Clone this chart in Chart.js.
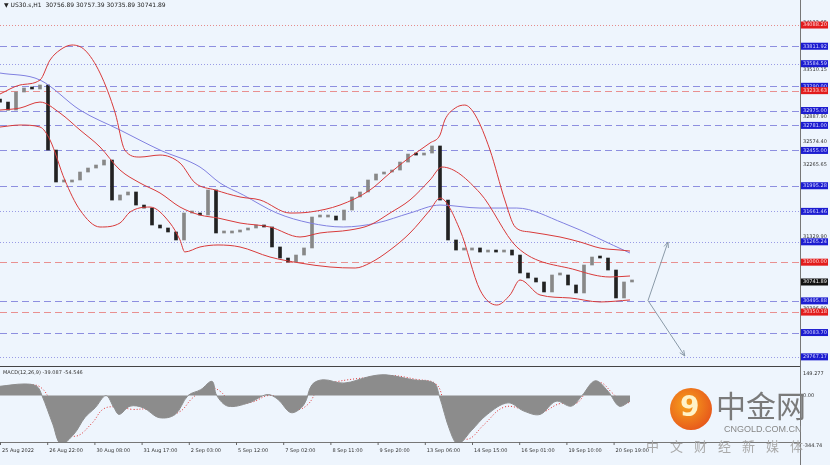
<!DOCTYPE html>
<html>
<head>
<meta charset="utf-8">
<script src="https://cdn.jsdelivr.net/npm/chart.js@4"></script>
<style>
  body { margin: 0; background: #eef5fd; font-family: 'DejaVu Sans', sans-serif; }
  #wrap { position: relative; width: 830px; height: 465px; overflow: hidden; }
  #price { position: absolute; left: 0; top: 0; }
  #macd { position: absolute; left: 0; top: 367px; }
  .title { position: absolute; left: 4px; top: 1px; font-size: 6px; color: #222; }
  .logo-c { position: absolute; left: 670px; top: 388px; width: 42px; height: 42px; border-radius: 50%;
            background: radial-gradient(circle at 40% 40%, #f7a31c, #e2401b); }
  .logo-c span { position: absolute; left: 10px; top: 2px; font-size: 28px; color: #fff3c8; font-weight: bold; }
  .logo-t { position: absolute; left: 716px; top: 384px; font-size: 30px; color: #7a7a7a; font-family: 'Noto Sans CJK SC'; line-height: 40px; }
  .logo-e { position: absolute; left: 724px; top: 424px; font-size: 9px; color: #888; font-family: 'Liberation Sans'; }
  .logo-s { position: absolute; left: 646px; top: 436px; font-size: 13px; color: #aaa; letter-spacing: 11px; font-family: 'Noto Sans CJK SC'; }
</style>
</head>
<body>
<div id="wrap">
  <canvas id="price" width="830" height="367"></canvas>
  <canvas id="macd" width="830" height="98"></canvas>
  <div class="title">▼ US30.s,H1 &nbsp;30756.89 30757.39 30735.89 30741.89</div>
  <div class="logo-c"><span>9</span></div>
  <div class="logo-t">中金网</div>
  <div class="logo-e">CNGOLD.COM.CN</div>
  <div class="logo-s">中文财经新媒体</div>
</div>
<script>
// closes, one candle per slot
const closes = [33085, 32981, 33216, 33268, 33255, 33307, 32460, 32044, 32044, 32070,
  32174, 32226, 32265, 32330, 31809, 31875, 31914, 31744, 31705, 31484,
  31445, 31393, 31289, 31640, 31640, 31614, 31940, 31380, 31380, 31393,
  31419, 31445, 31484, 31458, 31198, 31054, 31002, 31093, 31185, 31588,
  31588, 31601, 31549, 31679, 31849, 31914, 32070, 32148, 32174, 32200,
  32304, 32408, 32395, 32421, 32513, 31809, 31289, 31158, 31158, 31185,
  31132, 31158, 31132, 31158, 31093, 30859, 30794, 30742, 30612, 30833,
  30833, 30703, 30599, 30963, 31067, 31054, 30898, 30534, 30742, 30742];

const upperBand = [[0,33190],[2.5,33307],[5,33372],[6.25,33632],[7.5,33763],[9,33828],[10.6,33763],
  [12.5,33463],[14.4,32942],[15.6,32460],[17.5,32369],[20,32395],[22.5,32291],[24.4,32031],
  [26.9,31940],[30,31849],[32.5,31810],[36.25,31640],[38.75,31653],[42.5,31744],[46.25,31940],
  [48.75,32161],[51.25,32369],[53.75,32552],[55,32656],[55.6,32851],[56.9,33007],[58.1,33046],
  [59.4,32916],[61.25,32460],[63.1,31810],[64.4,31458],[66.25,31393],[70,31328],[72.5,31263],
  [75,31184],[77.5,31158],[78.75,31145]];
const middleBand = [[0,32981],[2.5,33007],[5,33085],[7.5,32942],[10,32721],[12.5,32500],[15,32200],
  [17.5,32031],[20,31901],[22.5,31718],[25,31614],[27.25,31575],[30,31510],[33.75,31458],
  [37.5,31328],[40,31380],[43.75,31419],[46.25,31484],[48.75,31640],[51.25,31810],[53.75,32070],
  [55.25,32239],[60,31901],[64.6,31198],[72,30898],[76.25,30807],[78.75,30820]];
const lowerBand = [[0,32760],[2.5,32786],[5,32760],[6.25,32591],[8.1,32070],[10,31679],[12.5,31458],
  [15,31510],[16.25,31653],[18.75,31718],[21.25,31510],[22.5,31289],[23.1,31133],[25,31198],
  [27.25,31224],[30,31198],[33.75,31067],[37.5,30989],[41.25,30937],[44.4,30924],[46.25,30989],
  [48.75,31158],[51.25,31380],[53.75,31679],[55,31835],[57.5,31419],[60,30638],[62.1,30442],
  [63.75,30573],[65,30768],[67.5,30573],[71.25,30534],[75,30482],[78.75,30508]];
const slowMA = [[0,33463],[5,33372],[10,32981],[15,32721],[20,32460],[25,32239],[27.5,32031],
  [30.4,31875],[34.6,31640],[38.75,31510],[42.9,31458],[47.1,31510],[51.25,31640],[55,31744],
  [60,31705],[64.6,31705],[70.4,31510],[78.75,31119]];

const macdHist = [[0,64],[3,80],[4.6,64],[5.25,0],[6.6,-197],[7.6,-334],[9.25,-265],[10.6,-152],
  [11.9,-84],[13.25,0],[14.25,-84],[14.9,-130],[16.25,-73],[17.9,-84],[19.9,-152],[21.9,-130],
  [23.5,0],[25.1,41],[26.5,98],[27.1,0],[28.5,-73],[31.1,-50],[33.4,7],[34.75,-27],[36.4,-118],
  [38,-61],[39,75],[40.4,109],[43,86],[46.25,132],[48.25,143],[51.6,109],[54.25,86],[54.9,0],
  [56.25,-243],[57.25,-334],[58.9,-243],[60.9,-130],[63.5,-50],[65.5,-107],[67.5,-130],
  [69.5,-39],[71.4,-73],[72.75,0],[74.4,102],[76,30],[77.4,-73],[78.75,-39]];
const macdSignal = [[0,50],[3,70],[5,60],[6.5,-60],[8,-230],[9.5,-280],[11.5,-190],[13,-90],
  [15,-80],[16.5,-95],[18.5,-95],[20.5,-135],[22.5,-110],[24,-20],[26,60],[27.5,30],[29,-50],
  [31.5,-45],[33.5,0],[35,-20],[37,-95],[38.5,-60],[40,60],[42,95],[46,125],[49,138],[52,112],
  [54.5,80],[55.5,-50],[57,-250],[58.5,-300],[60.5,-200],[63,-80],[65.5,-95],[67.5,-120],
  [70,-55],[72,-55],[73.5,40],[75,90],[76.5,20],[78,-55],[78.75,-45]];

const dateLabels = ['25 Aug 2022', '26 Aug 22:00', '30 Aug 08:00', '31 Aug 17:00', '2 Sep 03:00',
  '5 Sep 12:00', '7 Sep 02:00', '8 Sep 11:00', '9 Sep 20:00', '13 Sep 06:00', '14 Sep 15:00',
  '16 Sep 01:00', '19 Sep 10:00', '20 Sep 19:00'];

const blueDashed = [33811.92, 33290.00, 32975.00, 32781.00, 32455.00, 31995.28, 30495.88, 30083.70];
const blueDotted = [33584.59, 31661.46, 31265.24, 29767.17];
const redDashed = [33233.63, 31000.00, 30350.18];
const redDotted = [34088.20];
const plainTicks = [34122.65, 33510.15, 32887.90, 32574.40, 32265.65, 31329.90, 30396.90];
const lastPrice = 30741.89;

const toPts = (arr) => arr.map(([x, y]) => ({ x, y }));
const bodies = closes.map((c, i) => ({ x: i, y: [i === 0 ? c + 40 : closes[i - 1], c] }));

const fmt = (v) => v.toFixed(2);

const levelsPlugin = {
  id: 'levels',
  beforeDatasetsDraw(chart) {
    const { ctx, chartArea: a, scales: { y } } = chart;
    ctx.save();
    ctx.lineWidth = 1;
    const draw = (vals, color, dash) => {
      vals.forEach((v) => {
        const py = Math.round(y.getPixelForValue(v)) + 0.5;
        ctx.strokeStyle = color;
        ctx.setLineDash(dash);
        ctx.beginPath(); ctx.moveTo(a.left, py); ctx.lineTo(a.right, py); ctx.stroke();
      });
    };
    draw(blueDashed, '#8d8fe0', [7, 4]);
    draw(blueDotted, '#9a9ce6', [1, 2]);
    draw(redDashed, '#e99090', [7, 4]);
    draw(redDotted, '#e58c8c', [1, 2]);
    ctx.restore();
  },
  afterDraw(chart) {
    const { ctx, chartArea: a, scales: { x, y } } = chart;
    ctx.save();
    ctx.setLineDash([]);
    ctx.strokeStyle = '#777';
    ctx.beginPath(); ctx.moveTo(a.right + 0.5, 0); ctx.lineTo(a.right + 0.5, chart.height); ctx.stroke();
    ctx.strokeStyle = '#444';
    ctx.beginPath(); ctx.moveTo(0, chart.height - 0.5); ctx.lineTo(a.right, chart.height - 0.5); ctx.stroke();
    ctx.font = '5px "DejaVu Sans"';
    ctx.textBaseline = 'middle';
    plainTicks.forEach((v) => {
      ctx.fillStyle = '#333';
      ctx.fillText(fmt(v), a.right + 3, y.getPixelForValue(v));
    });
    const box = (v, bg, fg) => {
      const py = y.getPixelForValue(v);
      ctx.fillStyle = bg;
      ctx.fillRect(a.right + 1, py - 3.5, 27, 7);
      ctx.fillStyle = fg;
      ctx.fillText(fmt(v), a.right + 3, py);
    };
    blueDashed.concat(blueDotted).forEach((v) => box(v, '#1c1cd0', '#d8d8ff'));
    redDashed.concat(redDotted).forEach((v) => box(v, '#e21c1c', '#ffd8d8'));
    box(lastPrice, '#111', '#eee');
    // grey forecast arrows
    const sx = x.getPixelForValue(81), sy = y.getPixelForValue(30500);
    const arrow = (ex, ey) => {
      const px = x.getPixelForValue(ex), py = y.getPixelForValue(ey);
      ctx.strokeStyle = '#8a9aa8'; ctx.lineWidth = 1;
      ctx.beginPath(); ctx.moveTo(sx, sy); ctx.lineTo(px, py); ctx.stroke();
      const ang = Math.atan2(py - sy, px - sx);
      ctx.beginPath();
      ctx.moveTo(px, py);
      ctx.lineTo(px - 6 * Math.cos(ang - 0.4), py - 6 * Math.sin(ang - 0.4));
      ctx.moveTo(px, py);
      ctx.lineTo(px - 6 * Math.cos(ang + 0.4), py - 6 * Math.sin(ang + 0.4));
      ctx.stroke();
    };
    arrow(83.5, 31263);
    arrow(85.6, 29778);
    ctx.restore();
  },
};

const lineDs = (data, color, width) => ({
  type: 'line', data: toPts(data), borderColor: color, borderWidth: width,
  pointRadius: 0, tension: 0.4, cubicInterpolationMode: 'monotone', fill: false,
});

const xScale = { type: 'linear', min: 0, max: 100, display: false, offset: false };

new Chart(document.getElementById('price'), {
  type: 'bar',
  data: {
    datasets: [
      lineDs(upperBand, '#d83a3a', 1),
      lineDs(middleBand, '#d83a3a', 1),
      lineDs(lowerBand, '#d83a3a', 1),
      lineDs(slowMA, '#8080e0', 1),
      {
        data: bodies,
        backgroundColor: bodies.map((b) => (b.y[1] >= b.y[0] ? '#888' : '#222')),
        barThickness: 3,
        minBarLength: 2,
      },
    ],
  },
  options: {
    responsive: false,
    animation: false,
    layout: { padding: { left: 0, right: 30, top: 0, bottom: 0 } },
    scales: { x: xScale, y: { min: 29635, max: 34414, display: false } },
    plugins: { legend: { display: false }, tooltip: { enabled: false } },
  },
  plugins: [levelsPlugin],
});

const macdPlugin = {
  id: 'macdDeco',
  afterDraw(chart) {
    const { ctx, chartArea: a, scales: { x, y } } = chart;
    ctx.save();
    ctx.strokeStyle = '#777';
    ctx.beginPath(); ctx.moveTo(a.right + 0.5, 0); ctx.lineTo(a.right + 0.5, chart.height); ctx.stroke();
    ctx.beginPath(); ctx.moveTo(0, a.bottom + 0.5); ctx.lineTo(a.right, a.bottom + 0.5); ctx.stroke();
    ctx.font = '5px "DejaVu Sans"';
    ctx.fillStyle = '#333';
    ctx.textBaseline = 'middle';
    ctx.fillText('MACD(12,26,9) -39.087 -54.546', 3, 6);
    ctx.fillText('149.277', a.right + 3, y.getPixelForValue(149.277));
    ctx.fillText('0.00', a.right + 3, y.getPixelForValue(0));
    ctx.fillText('-344.74', a.right + 3, a.bottom + 4);
    dateLabels.forEach((t, k) => {
      const px = x.getPixelForValue(k * 5.9);
      ctx.strokeStyle = '#666';
      ctx.beginPath(); ctx.moveTo(px + 0.5, a.bottom); ctx.lineTo(px + 0.5, a.bottom + 3); ctx.stroke();
      ctx.fillText(t, px + 2, a.bottom + 9);
    });
    ctx.restore();
  },
};

new Chart(document.getElementById('macd'), {
  type: 'line',
  data: {
    datasets: [
      {
        data: toPts(macdHist), borderColor: '#8c8c8c', backgroundColor: '#8c8c8c',
        borderWidth: 1, pointRadius: 0, tension: 0.35, fill: 'origin',
      },
      {
        data: toPts(macdSignal), borderColor: '#e03030', borderWidth: 1,
        borderDash: [1, 2], pointRadius: 0, tension: 0.4, fill: false,
      },
    ],
  },
  options: {
    responsive: false,
    animation: false,
    layout: { padding: { left: 0, right: 30, top: 0, bottom: 23 } },
    scales: { x: xScale, y: { min: -320, max: 197, display: false } },
    plugins: { legend: { display: false }, tooltip: { enabled: false } },
  },
  plugins: [macdPlugin],
});
</script>
</body>
</html>
